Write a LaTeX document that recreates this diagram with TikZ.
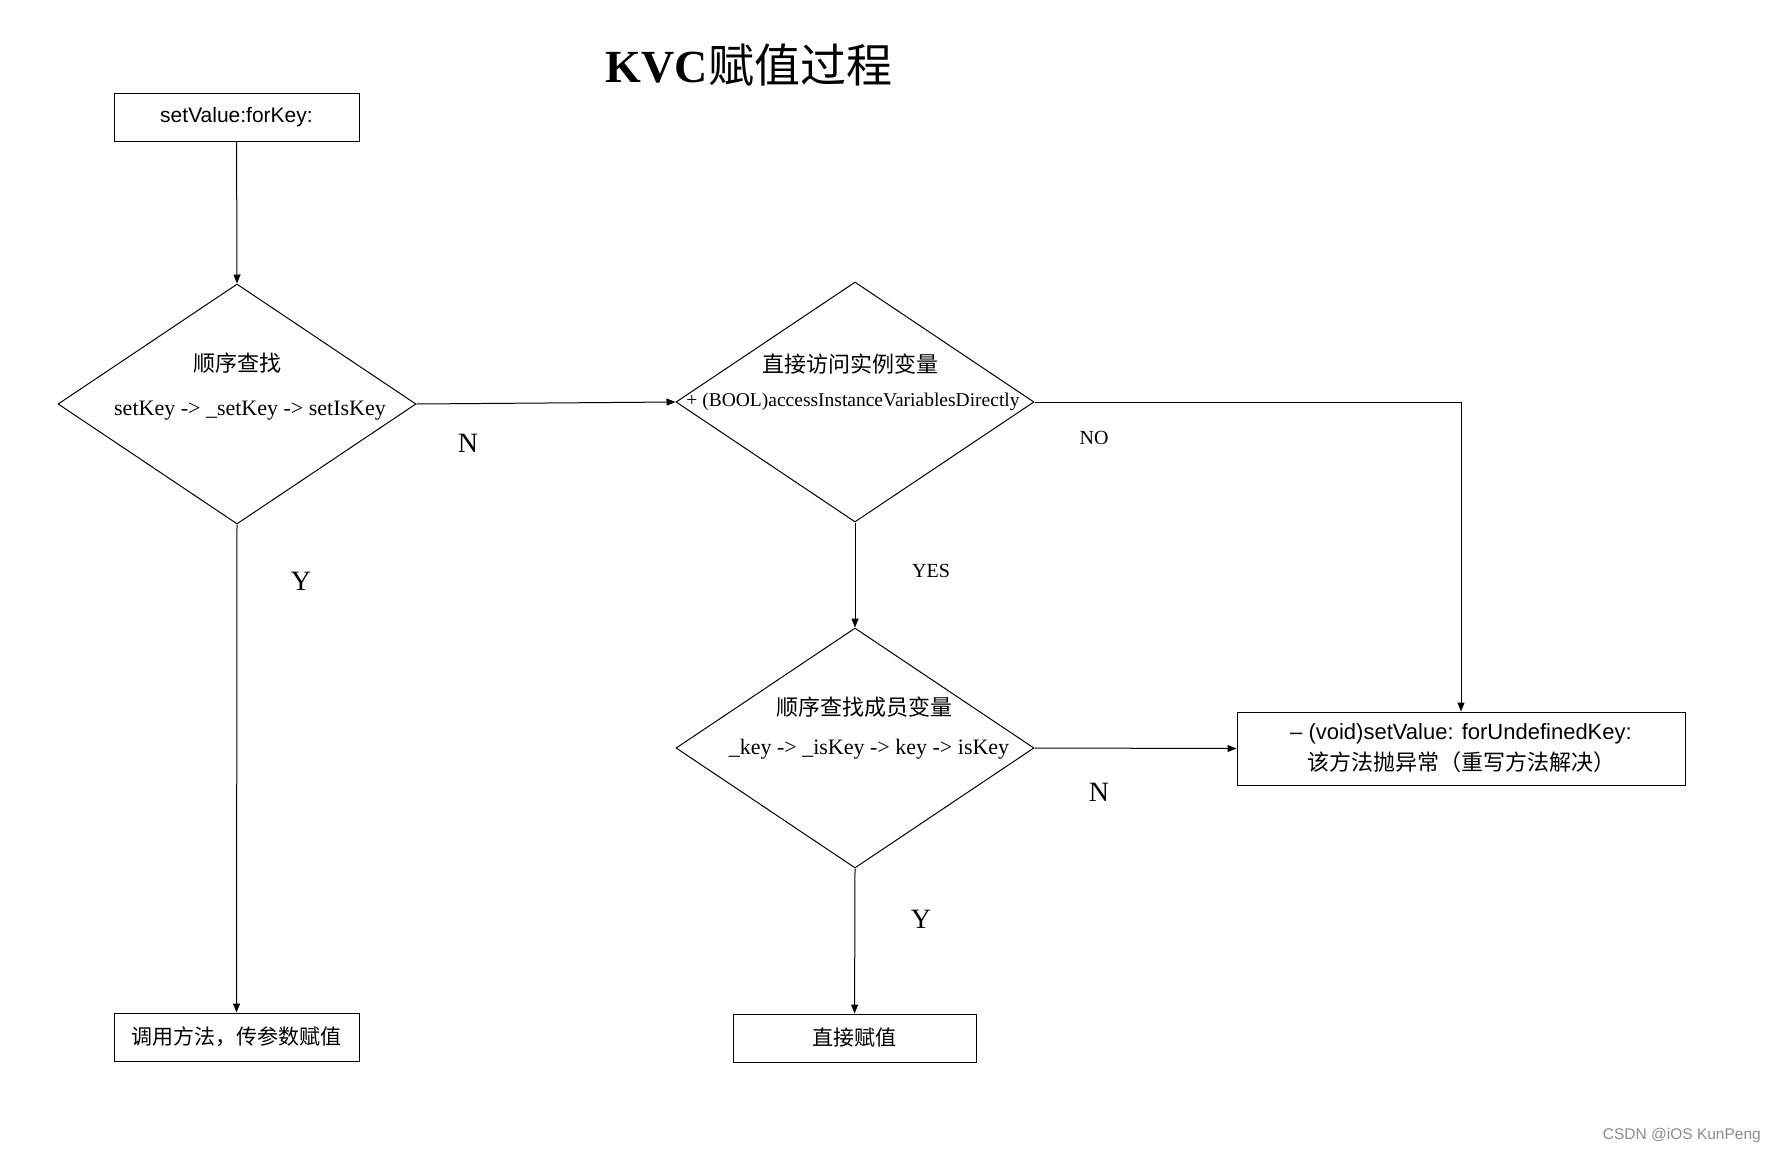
\documentclass[tikz,border=0pt]{standalone}
\usepackage{fontspec}
\setmainfont{Liberation Serif}
\setsansfont{Liberation Sans}
\newfontfamily\cjk{Noto Sans CJK SC}
\usetikzlibrary{shapes.geometric,arrows.meta}
\tikzset{
    kbox/.style={draw=black, line width=1pt, minimum height=48pt, align=center, inner sep=0pt, font=\sffamily\fontsize{21}{30}\selectfont},
    kdiam/.style={draw=black, line width=1pt, diamond, minimum width=358pt, minimum height=240pt, inner sep=0pt},
    ktxt/.style={inner sep=0pt, font=\fontsize{22}{26}\selectfont},
    klbl/.style={inner sep=0pt, font=\fontsize{28}{32}\selectfont},
    ksmall/.style={inner sep=0pt, font=\fontsize{20}{24}\selectfont},
    kline/.style={-{Triangle[length=9pt,width=7pt]}, line width=1pt}
}

\begin{document}
\begin{tikzpicture}[x=1pt, y=-1pt]
            \useasboundingbox (0,0) rectangle (1776,1154);
            \node[inner sep=0pt, font=\fontsize{46}{50}\selectfont] (title) at (749,65) {\bfseries KVC{\mdseries\cjk 赋值过程}};
            \node[kbox, minimum width=245pt] (start) at (236.5,117.5) {setValue:forKey:};
            \node[kdiam] (d1) at (237,404) {};
            \node[ktxt] (d1a) at (237,363) {\cjk 顺序查找};
            \node[ktxt] (d1b) at (250,411) {setKey -> \_setKey -> setIsKey};
            \node[kdiam] (d2) at (855,402) {};
            \node[ktxt] (d2a) at (850,364) {\cjk 直接访问实例变量};
            \node[inner sep=0pt, font=\fontsize{19.5}{24}\selectfont] (d2b) at (853,402) {+ (BOOL)accessInstanceVariablesDirectly};
            \node[kdiam] (d3) at (855,748) {};
            \node[ktxt] (d3a) at (864,707) {\cjk 顺序查找成员变量};
            \node[ktxt] (d3b) at (869,749) {\_key -> \_isKey -> key -> isKey};
            \node[kbox, minimum width=448pt, minimum height=73pt, font=\sffamily\fontsize{22}{31}\selectfont] (undef) at (1461,748.5) {– (void)setValue: forUndefinedKey:\\{\cjk 该方法抛异常（重写方法解决）}};
            \node[kbox, minimum width=245pt] (call) at (236.5,1037) {\cjk 调用方法，传参数赋值};
            \node[kbox, minimum width=243pt] (direct) at (854.5,1038) {\cjk 直接赋值};
            \node[klbl] (n1) at (468,443) {N};
            \node[klbl] (y1) at (301,581) {Y};
            \node[ksmall] (no) at (1094,438) {NO};
            \node[ksmall] (yes) at (931,571) {YES};
            \node[klbl] (n2) at (1099,792) {N};
            \node[klbl] (y2) at (921,919) {Y};
            \node[anchor=east, inner sep=0pt, text=black!45, font=\sffamily\fontsize{15.5}{18}\selectfont] (mark) at (1761,1135) {CSDN @iOS KunPeng};
            \draw[kline] (start) -- (d1.north);
            \draw[kline] (d1.east) -- (d2.west);
            \draw[kline] (d1.south) -- (call);
            \draw[kline] (d2.east) -| (undef.north);
            \draw[kline] (d2.south) -- (d3.north);
            \draw[kline] (d3.east) -- (undef.west);
            \draw[kline] (d3.south) -- (direct);
        \end{tikzpicture}
\end{document}
